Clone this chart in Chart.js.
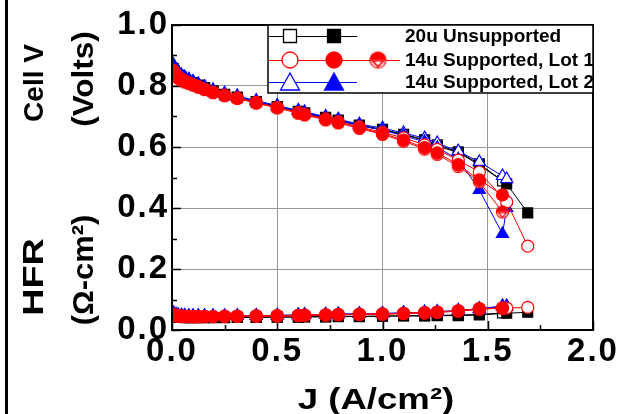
<!DOCTYPE html>
<html>
<head>
<meta charset="utf-8">
<script src="https://cdn.jsdelivr.net/npm/chart.js@4.4.1/dist/chart.umd.min.js"></script>
<style>
  html, body { margin: 0; padding: 0; background: #fff; }
  #wrap { position: relative; width: 619px; height: 414px; }
</style>
</head>
<body>
<div id="wrap"><canvas id="polChart" width="619" height="414"></canvas></div>
<script>
// current density steps shared by all runs (A/cm2)
const jCommon = [0.005, 0.01, 0.02, 0.03, 0.045, 0.06, 0.08, 0.10, 0.125, 0.155, 0.195, 0.25, 0.31,
  0.40, 0.50, 0.60, 0.63, 0.73, 0.79, 0.89, 1.00, 1.10, 1.20, 1.26, 1.36, 1.46];

const jUnsupA = jCommon.concat([1.57]);
const jUnsupB = jCommon.concat([1.59, 1.69]);
const jLot1A = jCommon.concat([1.59, 1.69]);
const jLot1B = jCommon.concat([1.57]);
const jLot1C = jCommon.concat([1.57]);
const jLot2A = jCommon.concat([1.57, 1.59]);
const jLot2B = jCommon.concat([1.57, 1.59]);

// cell voltage (V)
const vUnsupA = [0.858, 0.851, 0.843, 0.836, 0.829, 0.823, 0.817, 0.811, 0.803, 0.795, 0.784, 0.773, 0.764,
  0.749, 0.733, 0.717, 0.712, 0.697, 0.688, 0.672, 0.658, 0.642, 0.624, 0.607, 0.584, 0.545, 0.489];
const vUnsupB = [0.856, 0.849, 0.841, 0.834, 0.827, 0.821, 0.815, 0.809, 0.801, 0.793, 0.782, 0.771, 0.762,
  0.747, 0.731, 0.715, 0.710, 0.695, 0.686, 0.670, 0.656, 0.640, 0.622, 0.603, 0.582, 0.541, 0.479, 0.384];
const vLot1A = [0.852, 0.845, 0.837, 0.830, 0.823, 0.817, 0.811, 0.805, 0.798, 0.790, 0.780, 0.770, 0.761,
  0.746, 0.730, 0.713, 0.708, 0.692, 0.683, 0.666, 0.648, 0.630, 0.607, 0.592, 0.557, 0.518, 0.420, 0.275];
const vLot1B = [0.848, 0.841, 0.834, 0.827, 0.821, 0.815, 0.809, 0.804, 0.797, 0.789, 0.779, 0.769, 0.760,
  0.745, 0.729, 0.712, 0.706, 0.690, 0.680, 0.663, 0.644, 0.623, 0.598, 0.581, 0.542, 0.492, 0.443];
const vLot1C = [0.846, 0.839, 0.832, 0.825, 0.819, 0.813, 0.808, 0.803, 0.796, 0.788, 0.778, 0.768, 0.759,
  0.744, 0.728, 0.711, 0.705, 0.689, 0.679, 0.661, 0.641, 0.619, 0.593, 0.576, 0.536, 0.486, 0.387];
const vLot2A = [0.872, 0.862, 0.852, 0.844, 0.836, 0.829, 0.822, 0.815, 0.807, 0.798, 0.787, 0.776, 0.767,
  0.752, 0.736, 0.720, 0.715, 0.700, 0.691, 0.675, 0.662, 0.646, 0.629, 0.613, 0.586, 0.551, 0.505, 0.495];
const vLot2B = [0.868, 0.858, 0.849, 0.841, 0.833, 0.826, 0.820, 0.813, 0.805, 0.796, 0.785, 0.774, 0.765,
  0.750, 0.734, 0.718, 0.713, 0.697, 0.688, 0.671, 0.655, 0.637, 0.617, 0.598, 0.560, 0.459, 0.315, 0.400];

// high frequency resistance (ohm-cm2)
const hfrUnsupA = [0.048, 0.046, 0.045, 0.044, 0.043, 0.042, 0.042, 0.041, 0.041, 0.041, 0.041, 0.041, 0.042,
  0.042, 0.043, 0.043, 0.044, 0.044, 0.045, 0.045, 0.046, 0.047, 0.047, 0.048, 0.049, 0.051, 0.056];
const hfrUnsupB = [0.046, 0.044, 0.043, 0.042, 0.041, 0.040, 0.040, 0.040, 0.040, 0.040, 0.040, 0.040, 0.041,
  0.041, 0.042, 0.042, 0.043, 0.043, 0.044, 0.044, 0.045, 0.046, 0.046, 0.047, 0.047, 0.049, 0.055, 0.058];
const hfrLot1A = [0.052, 0.050, 0.048, 0.047, 0.046, 0.045, 0.045, 0.044, 0.044, 0.044, 0.044, 0.045, 0.045,
  0.046, 0.047, 0.048, 0.049, 0.050, 0.051, 0.052, 0.053, 0.055, 0.057, 0.059, 0.063, 0.070, 0.072, 0.074];
const hfrLot1B = [0.050, 0.048, 0.047, 0.046, 0.045, 0.044, 0.044, 0.044, 0.044, 0.044, 0.044, 0.044, 0.045,
  0.045, 0.046, 0.047, 0.048, 0.049, 0.050, 0.051, 0.052, 0.054, 0.056, 0.058, 0.062, 0.068, 0.073];
const hfrLot1C = [0.051, 0.049, 0.047, 0.046, 0.045, 0.045, 0.044, 0.044, 0.044, 0.044, 0.044, 0.045, 0.045,
  0.046, 0.046, 0.047, 0.048, 0.049, 0.050, 0.051, 0.052, 0.054, 0.056, 0.058, 0.062, 0.069, 0.071];
const hfrLot2A = [0.056, 0.053, 0.051, 0.049, 0.048, 0.047, 0.046, 0.046, 0.046, 0.046, 0.046, 0.046, 0.047,
  0.047, 0.048, 0.049, 0.050, 0.051, 0.052, 0.053, 0.054, 0.056, 0.058, 0.060, 0.063, 0.068, 0.076, 0.077];
const hfrLot2B = [0.055, 0.052, 0.050, 0.049, 0.048, 0.047, 0.046, 0.046, 0.046, 0.046, 0.046, 0.046, 0.046,
  0.047, 0.048, 0.049, 0.050, 0.051, 0.052, 0.053, 0.054, 0.056, 0.058, 0.060, 0.064, 0.070, 0.079, 0.078];

const legendLabels = ['20u Unsupported', '14u Supported, Lot 1', '14u Supported, Lot 2'];
const xTickLabels = ['0.0', '0.5', '1.0', '1.5', '2.0'];
const yTickLabels = ['0.0', '0.2', '0.4', '0.6', '0.8', '1.0'];

const FONT = "'Liberation Sans', Arial, Helvetica, sans-serif";
const RED = '#ff0000', BLUE = '#0000ff', BLACK = '#000000';

// half-filled circle marker (third Lot 1 run)
function halfCircle(r) {
  const s = Math.ceil(r * 2 + 3);
  const c = document.createElement('canvas');
  c.width = s; c.height = s;
  const g = c.getContext('2d');
  const m = s / 2;
  g.fillStyle = '#fff';
  g.beginPath(); g.arc(m, m, r, 0, Math.PI * 2); g.fill();
  g.fillStyle = RED;
  g.beginPath(); g.arc(m, m, r, Math.PI, Math.PI * 2); g.closePath(); g.fill();
  g.beginPath();
  g.moveTo(m - r * 0.95, m); g.lineTo(m + r * 0.95, m); g.lineTo(m, m + r); g.closePath();
  g.fill();
  g.fillStyle = '#fff';
  g.beginPath();
  g.moveTo(m - r * 0.45, m + r * 0.2); g.lineTo(m + r * 0.45, m + r * 0.2); g.lineTo(m, m + r * 0.7); g.closePath();
  g.fill();
  g.strokeStyle = RED; g.lineWidth = 1.2;
  g.beginPath(); g.arc(m, m, r, 0, Math.PI * 2); g.stroke();
  return c;
}
const halfMarker = halfCircle(6);
const halfMarkerLegend = halfCircle(8);

function pts(j, v) {
  return j.map(function (x, i) { return { x: x, y: v[i] }; });
}

// index 0 is drawn on top
const runs = [
  { j: jLot1B, v: vLot1B, h: hfrLot1B, color: RED, style: 'circle', open: false },
  { j: jLot1C, v: vLot1C, h: hfrLot1C, color: RED, style: 'half', open: false },
  { j: jLot1A, v: vLot1A, h: hfrLot1A, color: RED, style: 'circle', open: true },
  { j: jLot2B, v: vLot2B, h: hfrLot2B, color: BLUE, style: 'triangle', open: false },
  { j: jLot2A, v: vLot2A, h: hfrLot2A, color: BLUE, style: 'triangle', open: true },
  { j: jUnsupB, v: vUnsupB, h: hfrUnsupB, color: BLACK, style: 'rect', open: false },
  { j: jUnsupA, v: vUnsupA, h: hfrUnsupA, color: BLACK, style: 'rect', open: true }
];

function makeDataset(run, values) {
  const radius = run.style === 'circle' || run.style === 'half' ? 6 : 7;
  return {
    data: pts(run.j, values),
    showLine: true,
    borderColor: run.color,
    borderWidth: 1,
    pointStyle: run.style === 'half' ? halfMarker : run.style,
    pointRadius: radius,
    pointBorderWidth: 1.2,
    pointBorderColor: run.color,
    pointBackgroundColor: run.open ? '#ffffff' : run.color
  };
}

const datasets = runs.map(function (r) { return makeDataset(r, r.v); }).concat(
  runs.map(function (r) { return makeDataset(r, r.h); })
);

// marker drawing for the legend box
function legendMarker(ctx, style, open, color, x, y) {
  ctx.save();
  ctx.lineWidth = 1.3;
  ctx.strokeStyle = color;
  ctx.fillStyle = open ? '#fff' : color;
  ctx.beginPath();
  if (style === 'rect') {
    ctx.rect(x - 6.5, y - 6.5, 13, 13);
  } else if (style === 'circle') {
    ctx.arc(x, y, 8, 0, Math.PI * 2);
  } else if (style === 'triangle') {
    ctx.moveTo(x, y - 10); ctx.lineTo(x + 9.5, y + 7); ctx.lineTo(x - 9.5, y + 7); ctx.closePath();
  } else if (style === 'half') {
    ctx.drawImage(halfMarkerLegend, x - halfMarkerLegend.width / 2, y - halfMarkerLegend.height / 2);
    ctx.restore();
    return;
  }
  ctx.fill();
  ctx.stroke();
  ctx.restore();
}

const framePlugin = {
  id: 'frame',
  beforeDraw: function (chart) {
    // the original lettering is wider than Arial bold
    chart.ctx.letterSpacing = '2px';
  },
  beforeDatasetsDraw: function (chart) {
    const ctx = chart.ctx, a = chart.chartArea, x = chart.scales.x, y = chart.scales.y;
    ctx.save();
    ctx.strokeStyle = '#000';
    ctx.lineWidth = 1.5;
    ctx.beginPath();
    // inward ticks on bottom axis, every 0.25
    for (let k = 0; k <= 8; k++) {
      const px = Math.round(x.getPixelForValue(k * 0.25)) + 0.5;
      const len = k % 2 === 0 ? 9 : 5;
      ctx.moveTo(px, a.bottom); ctx.lineTo(px, a.bottom - len);
    }
    // inward ticks on left axis, every 0.1
    for (let k = 0; k <= 10; k++) {
      const py = Math.round(y.getPixelForValue(k * 0.1)) + 0.5;
      const len = k % 2 === 0 ? 9 : 5;
      ctx.moveTo(a.left, py); ctx.lineTo(a.left + len, py);
    }
    ctx.stroke();
    ctx.restore();
  },
  afterDatasetsDraw: function (chart) {
    const ctx = chart.ctx, a = chart.chartArea;
    ctx.save();
    ctx.strokeStyle = '#000';
    ctx.lineWidth = 2;
    ctx.strokeRect(a.left, a.top, a.right - a.left, a.bottom - a.top);
    ctx.restore();
  },
  afterDraw: function (chart) {
    const ctx = chart.ctx, a = chart.chartArea;
    ctx.save();
    ctx.letterSpacing = '0px';
    // figure edge line at far left
    ctx.fillStyle = '#000';
    ctx.fillRect(5, 0, 3, chart.height);

    // legend box in the top right corner
    const bx = a.left + 96, by = a.top, bw = a.right - bx, bh = 68;
    ctx.fillStyle = '#fff';
    ctx.fillRect(bx, by, bw, bh);
    ctx.strokeStyle = '#000';
    ctx.lineWidth = 1.5;
    ctx.strokeRect(bx, by, bw, bh);
    const rowY = [by + 11, by + 35, by + 57];
    const rowMarks = [
      { color: BLACK, marks: [['rect', true], ['rect', false]] },
      { color: RED, marks: [['circle', true], ['circle', false], ['half', false]] },
      { color: BLUE, marks: [['triangle', true], ['triangle', false]] }
    ];
    rowMarks.forEach(function (row, i) {
      const yy = rowY[i];
      const lineEnd = row.marks.length === 3 ? bx + 132 : bx + 89;
      ctx.strokeStyle = row.color;
      ctx.lineWidth = 1;
      ctx.beginPath();
      ctx.moveTo(bx, yy + 0.5); ctx.lineTo(lineEnd, yy + 0.5);
      ctx.stroke();
      row.marks.forEach(function (m, k) {
        legendMarker(ctx, m[0], m[1], row.color, bx + 22 + k * 44, yy + (m[0] === 'triangle' ? 1 : 0));
      });
      ctx.fillStyle = '#000';
      ctx.font = 'bold 19px ' + FONT;
      ctx.textAlign = 'left';
      ctx.textBaseline = 'middle';
      ctx.fillText(legendLabels[i], bx + 137, yy + 1);
    });

    // axis titles
    ctx.fillStyle = '#000';
    ctx.textAlign = 'center';
    ctx.textBaseline = 'alphabetic';
    function vText(txt, bx0, cy, size, stretch) {
      ctx.save();
      ctx.translate(bx0, cy);
      ctx.rotate(-Math.PI / 2);
      ctx.scale(stretch, 1);
      ctx.font = 'bold ' + size + 'px ' + FONT;
      ctx.fillText(txt, 0, 0);
      ctx.restore();
    }
    vText('Cell V', 43, 83, 28, 1.0);
    vText('(Volts)', 93, 79, 30, 1.05);
    vText('HFR', 43, 277, 29, 1.3);
    vText('(\u03A9-cm\u00B2)', 93, 270, 30, 1.03);

    ctx.save();
    ctx.translate(376, 409);
    ctx.scale(1.22, 1);
    ctx.font = 'bold 30px ' + FONT;
    ctx.fillText('J (A/cm\u00B2)', 0, 0);
    ctx.restore();
    ctx.restore();
  }
};

Chart.defaults.font.family = FONT;

new Chart(document.getElementById('polChart'), {
  type: 'scatter',
  data: { datasets: datasets },
  options: {
    responsive: false,
    animation: false,
    events: [],
    layout: { padding: { top: 25, right: 26, left: 0, bottom: 0 } },
    plugins: { legend: { display: false }, tooltip: { enabled: false } },
    scales: {
      x: {
        type: 'linear',
        min: 0,
        max: 2,
        afterFit: function (s) { s.height = 84; },
        afterBuildTicks: function (s) {
          s.ticks = xTickLabels.map(function (t) { return { value: parseFloat(t) }; });
        },
        ticks: {
          padding: 2,
          color: '#000',
          font: { size: 33, weight: 'bold' },
          maxRotation: 0,
          callback: function (v, i) { return xTickLabels[i]; }
        },
        grid: { color: '#999', lineWidth: 1, drawTicks: false },
        border: { display: false }
      },
      y: {
        type: 'linear',
        min: 0,
        max: 1,
        afterFit: function (s) { s.width = 172; },
        afterBuildTicks: function (s) {
          s.ticks = yTickLabels.map(function (t) { return { value: parseFloat(t) }; });
        },
        ticks: {
          padding: 3,
          color: '#000',
          font: { size: 33, weight: 'bold' },
          callback: function (v, i) { return yTickLabels[i]; }
        },
        grid: { color: '#999', lineWidth: 1, drawTicks: false },
        border: { display: false }
      }
    }
  },
  plugins: [framePlugin]
});
</script>
</body>
</html>
